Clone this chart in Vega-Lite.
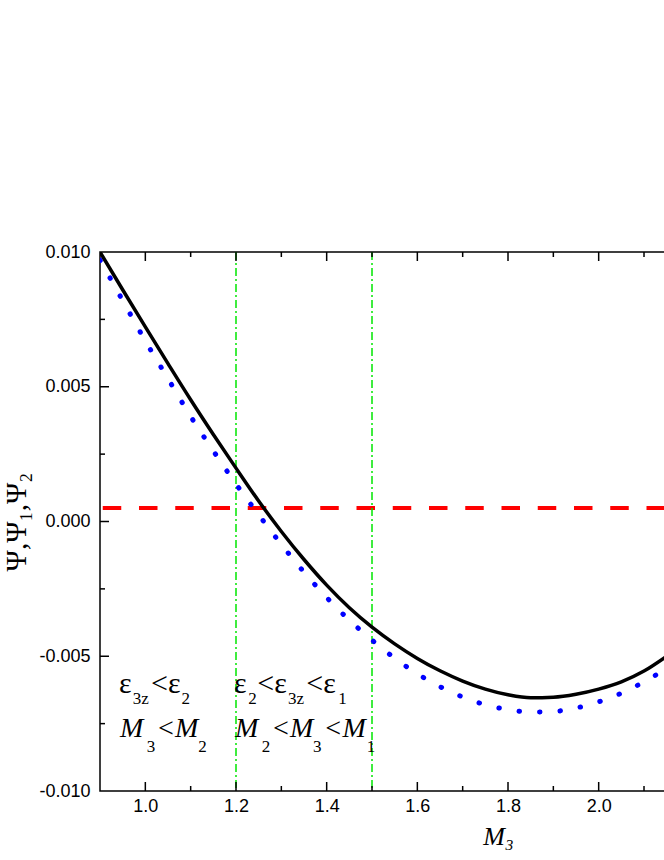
{
  "$schema": "https://vega.github.io/schema/vega-lite/v6.json",
  "width": 565,
  "height": 539,
  "autosize": {"type": "none"},
  "padding": {"left": 100, "top": 252, "right": 0, "bottom": 69},
  "background": "white",
  "config": {
    "view": {"stroke": "black", "strokeWidth": 1.5},
    "axis": {
      "grid": false,
      "ticks": false,
      "domain": false,
      "labelColor": "black",
      "labelFont": "Liberation Sans",
      "labelFontSize": 18,
      "titleColor": "black"
    }
  },
  "datasets": {
    "psi": [
      {"M3": 0.90, "psi": 0.0100},
      {"M3": 0.95, "psi": 0.0086},
      {"M3": 1.00, "psi": 0.00722},
      {"M3": 1.05, "psi": 0.00586},
      {"M3": 1.10, "psi": 0.00452},
      {"M3": 1.15, "psi": 0.00323},
      {"M3": 1.20, "psi": 0.00198},
      {"M3": 1.25, "psi": 0.00076},
      {"M3": 1.30, "psi": -0.00037},
      {"M3": 1.35, "psi": -0.00141},
      {"M3": 1.40, "psi": -0.00236},
      {"M3": 1.45, "psi": -0.0032},
      {"M3": 1.50, "psi": -0.00392},
      {"M3": 1.55, "psi": -0.00454},
      {"M3": 1.60, "psi": -0.00508},
      {"M3": 1.65, "psi": -0.00554},
      {"M3": 1.70, "psi": -0.00592},
      {"M3": 1.75, "psi": -0.00622},
      {"M3": 1.80, "psi": -0.00643},
      {"M3": 1.85, "psi": -0.00654},
      {"M3": 1.90, "psi": -0.00652},
      {"M3": 1.95, "psi": -0.00641},
      {"M3": 2.00, "psi": -0.00622},
      {"M3": 2.05, "psi": -0.00595},
      {"M3": 2.10, "psi": -0.00555},
      {"M3": 2.15, "psi": -0.00500}
    ],
    "psi1": [
      {"M3": 0.90, "psi": 0.0097},
      {"M3": 0.95, "psi": 0.0082},
      {"M3": 1.00, "psi": 0.0067},
      {"M3": 1.05, "psi": 0.0053},
      {"M3": 1.10, "psi": 0.0039},
      {"M3": 1.15, "psi": 0.00262},
      {"M3": 1.20, "psi": 0.00139},
      {"M3": 1.25, "psi": 0.00025},
      {"M3": 1.30, "psi": -0.00085},
      {"M3": 1.35, "psi": -0.00188},
      {"M3": 1.40, "psi": -0.00282},
      {"M3": 1.45, "psi": -0.00366},
      {"M3": 1.50, "psi": -0.0044},
      {"M3": 1.55, "psi": -0.00507},
      {"M3": 1.60, "psi": -0.00565},
      {"M3": 1.65, "psi": -0.00613},
      {"M3": 1.70, "psi": -0.00651},
      {"M3": 1.75, "psi": -0.0068},
      {"M3": 1.80, "psi": -0.00698},
      {"M3": 1.85, "psi": -0.00707},
      {"M3": 1.90, "psi": -0.00705},
      {"M3": 1.95, "psi": -0.00692},
      {"M3": 2.00, "psi": -0.00669},
      {"M3": 2.05, "psi": -0.00637},
      {"M3": 2.10, "psi": -0.00595},
      {"M3": 2.15, "psi": -0.00545}
    ],
    "psi2": [{"psi": 0.0005}],
    "bounds": [{"M3": 1.2}, {"M3": 1.5}],
    "xMajor": [{"v": 1.0}, {"v": 1.2}, {"v": 1.4}, {"v": 1.6}, {"v": 1.8}, {"v": 2.0}],
    "xMinor": [{"v": 1.1}, {"v": 1.3}, {"v": 1.5}, {"v": 1.7}, {"v": 1.9}, {"v": 2.1}],
    "yMajor": [{"v": -0.005}, {"v": 0}, {"v": 0.005}],
    "yMinor": [{"v": -0.0075}, {"v": -0.0025}, {"v": 0.0025}, {"v": 0.0075}],
    "epsText": [
      {"t": "ε", "x": 0.9419, "y": -0.006382},
      {"t": "<ε", "x": 1.0125, "y": -0.006382},
      {"t": "ε", "x": 1.1956, "y": -0.006382},
      {"t": "<ε", "x": 1.2470, "y": -0.006382},
      {"t": "<ε", "x": 1.3551, "y": -0.006382}
    ],
    "italicText": [
      {"t": "M", "x": 0.9441, "y": -0.007985},
      {"t": "<M", "x": 1.0240, "y": -0.007985},
      {"t": "M", "x": 1.1978, "y": -0.007985},
      {"t": "<M", "x": 1.2777, "y": -0.007985},
      {"t": "<M", "x": 1.3930, "y": -0.007985}
    ],
    "subText": [
      {"t": "3z", "x": 0.9724, "y": -0.006783},
      {"t": "2", "x": 1.0798, "y": -0.006783},
      {"t": "2", "x": 1.2271, "y": -0.006783},
      {"t": "3z", "x": 1.3147, "y": -0.006783},
      {"t": "1", "x": 1.4257, "y": -0.006783},
      {"t": "3", "x": 1.0030, "y": -0.008564},
      {"t": "2", "x": 1.1168, "y": -0.008564},
      {"t": "2", "x": 1.2567, "y": -0.008564},
      {"t": "3", "x": 1.3699, "y": -0.008564},
      {"t": "1", "x": 1.4883, "y": -0.008564}
    ]
  },
  "layer": [
    {
      "data": {"name": "psi2"},
      "mark": {"type": "rule", "color": "#ff0000", "strokeWidth": 4, "strokeDash": [18.5, 17.75]},
      "encoding": {
        "y": {"field": "psi", "type": "quantitative", "scale": {"domain": [-0.01, 0.01], "nice": false, "zero": false},
          "axis": {"orient": "left", "values": [-0.01, -0.005, 0, 0.005, 0.01], "labelExpr": "replace(format(datum.value, '.3f'), '−', '-')",
            "labelPadding": 10,
            "title": "Ψ,Ψ₁,Ψ₂", "titleFont": "Liberation Serif", "titleFontWeight": "normal", "titleFontSize": 29,
            "titleX": -75, "titleY": 269.5, "titleAngle": -90, "titleBaseline": "alphabetic", "titleAlign": "center"}}
      }
    },
    {
      "data": {"name": "bounds"},
      "mark": {"type": "rule", "color": "#00e600", "strokeWidth": 1.5, "strokeDash": [8, 3, 2, 3]},
      "encoding": {
        "x": {"field": "M3", "type": "quantitative", "scale": {"domain": [0.9, 2.1463], "nice": false, "zero": false},
          "axis": {"orient": "bottom", "values": [1.0, 1.2, 1.4, 1.6, 1.8, 2.0], "format": ".1f", "labelPadding": 6,
            "title": "M₃", "titleFont": "Liberation Serif", "titleFontStyle": "italic", "titleFontWeight": "normal", "titleFontSize": 26,
            "titleX": 398, "titleY": 53, "titleBaseline": "alphabetic", "titleAlign": "center"}}
      }
    },
    {
      "data": {"name": "xMajor"},
      "mark": {"type": "rule", "strokeWidth": 1.5, "color": "black"},
      "encoding": {
        "x": {"field": "v", "type": "quantitative"},
        "y": {"datum": -0.01, "type": "quantitative"},
        "y2": {"datum": -0.009666}
      }
    },
    {
      "data": {"name": "xMajor"},
      "mark": {"type": "rule", "strokeWidth": 1.5, "color": "black"},
      "encoding": {
        "x": {"field": "v", "type": "quantitative"},
        "y": {"datum": 0.01, "type": "quantitative"},
        "y2": {"datum": 0.009666}
      }
    },
    {
      "data": {"name": "xMinor"},
      "mark": {"type": "rule", "strokeWidth": 1.5, "color": "black"},
      "encoding": {
        "x": {"field": "v", "type": "quantitative"},
        "y": {"datum": -0.01, "type": "quantitative"},
        "y2": {"datum": -0.009814}
      }
    },
    {
      "data": {"name": "xMinor"},
      "mark": {"type": "rule", "strokeWidth": 1.5, "color": "black"},
      "encoding": {
        "x": {"field": "v", "type": "quantitative"},
        "y": {"datum": 0.01, "type": "quantitative"},
        "y2": {"datum": 0.009814}
      }
    },
    {
      "data": {"name": "yMajor"},
      "mark": {"type": "rule", "strokeWidth": 1.5, "color": "black"},
      "encoding": {
        "y": {"field": "v", "type": "quantitative"},
        "x": {"datum": 0.9, "type": "quantitative"},
        "x2": {"datum": 0.91985}
      }
    },
    {
      "data": {"name": "yMinor"},
      "mark": {"type": "rule", "strokeWidth": 1.5, "color": "black"},
      "encoding": {
        "y": {"field": "v", "type": "quantitative"},
        "x": {"datum": 0.9, "type": "quantitative"},
        "x2": {"datum": 0.91103}
      }
    },
    {
      "data": {"name": "psi1"},
      "mark": {"type": "line", "color": "#0000ff", "strokeWidth": 5, "strokeCap": "round", "strokeDash": [0.5, 20], "interpolate": "monotone", "clip": true},
      "encoding": {
        "x": {"field": "M3", "type": "quantitative"},
        "y": {"field": "psi", "type": "quantitative"}
      }
    },
    {
      "data": {"name": "psi"},
      "mark": {"type": "line", "color": "black", "strokeWidth": 3.5, "interpolate": "monotone", "clip": true},
      "encoding": {
        "x": {"field": "M3", "type": "quantitative"},
        "y": {"field": "psi", "type": "quantitative"}
      }
    },
    {
      "data": {"name": "epsText"},
      "mark": {"type": "text", "font": "Liberation Serif", "fontSize": 30, "align": "left", "baseline": "alphabetic", "color": "black"},
      "encoding": {
        "x": {"field": "x", "type": "quantitative"},
        "y": {"field": "y", "type": "quantitative"},
        "text": {"field": "t"}
      }
    },
    {
      "data": {"name": "italicText"},
      "mark": {"type": "text", "font": "Liberation Serif", "fontStyle": "italic", "fontSize": 28, "align": "left", "baseline": "alphabetic", "color": "black"},
      "encoding": {
        "x": {"field": "x", "type": "quantitative"},
        "y": {"field": "y", "type": "quantitative"},
        "text": {"field": "t"}
      }
    },
    {
      "data": {"name": "subText"},
      "mark": {"type": "text", "font": "Liberation Serif", "fontSize": 17, "align": "left", "baseline": "alphabetic", "color": "black"},
      "encoding": {
        "x": {"field": "x", "type": "quantitative"},
        "y": {"field": "y", "type": "quantitative"},
        "text": {"field": "t"}
      }
    }
  ]
}
